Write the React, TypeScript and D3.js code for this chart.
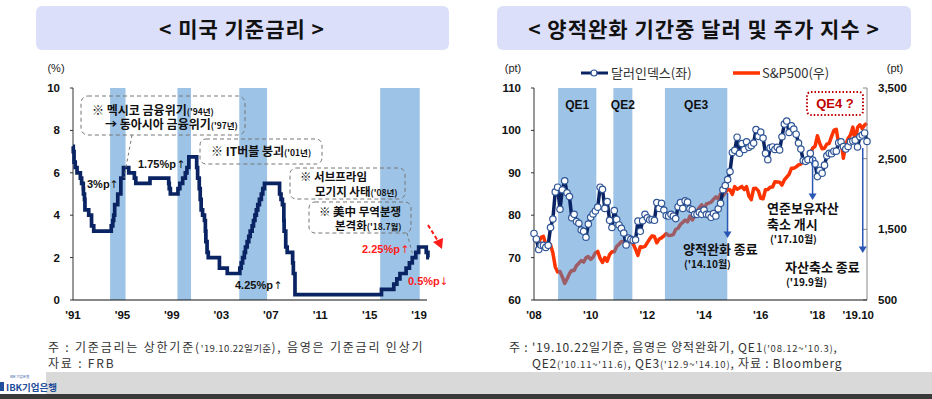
import React from 'react';
import * as d3 from 'd3';

// ---- left chart: US policy rate (upper bound), step changes ----
const rateDates = [
  '1991-01-01', '1991-01-09', '1991-02-01', '1991-03-08', '1991-04-30', '1991-08-06', '1991-09-13',
  '1991-10-31', '1991-11-06', '1991-12-06', '1991-12-20', '1992-04-09', '1992-07-02', '1992-09-04',
  '1994-02-04', '1994-03-22', '1994-04-18', '1994-05-17', '1994-08-16', '1994-11-15', '1995-02-01',
  '1995-07-06', '1995-12-19', '1996-01-31', '1997-03-25', '1998-09-29', '1998-10-15', '1998-11-17',
  '1999-06-30', '1999-08-24', '1999-11-16', '2000-02-02', '2000-03-21', '2000-05-16', '2001-01-03',
  '2001-01-31', '2001-03-20', '2001-04-18', '2001-05-15', '2001-06-27', '2001-08-21', '2001-09-17',
  '2001-10-02', '2001-11-06', '2001-12-11', '2002-11-06', '2003-06-25', '2004-06-30', '2004-08-10',
  '2004-09-21', '2004-11-10', '2004-12-14', '2005-02-02', '2005-03-22', '2005-05-03', '2005-06-30',
  '2005-08-09', '2005-09-20', '2005-11-01', '2005-12-13', '2006-01-31', '2006-03-28', '2006-05-10',
  '2006-06-29', '2007-09-18', '2007-10-31', '2007-12-11', '2008-01-22', '2008-01-30', '2008-03-18',
  '2008-04-30', '2008-10-08', '2008-10-29', '2008-12-16', '2015-12-16', '2016-12-14', '2017-03-15',
  '2017-06-14', '2017-12-13', '2018-03-21', '2018-06-13', '2018-09-26', '2018-12-19', '2019-07-31',
  '2019-09-18', '2019-10-22',
];
const rateValues = [
  7.25, 7.0, 6.5, 6.25, 6.0, 5.75, 5.5,
  5.25, 5.0, 4.75, 4.25, 4.0, 3.5, 3.25,
  3.5, 3.75, 4.0, 4.5, 5.0, 5.75, 6.25,
  6.0, 5.75, 5.5, 5.75, 5.5, 5.25, 5.0,
  5.25, 5.5, 5.75, 6.0, 6.25, 6.75, 6.25,
  5.75, 5.25, 4.75, 4.25, 4.0, 3.75, 3.25,
  2.75, 2.25, 2.0, 1.5, 1.25, 1.5, 1.75,
  2.0, 2.25, 2.5, 2.75, 3.0, 3.25, 3.5,
  3.75, 4.0, 4.25, 4.5, 4.75, 5.0, 5.25,
  5.5, 5.0, 4.75, 4.5, 3.75, 3.25, 2.5,
  2.25, 1.75, 1.25, 0.25, 0.5, 0.75, 1.0,
  1.25, 1.5, 1.75, 2.0, 2.25, 2.5, 2.25,
  2.0, 2.0,
];
const hikeStart = [1994.0, 1999.45, 2004.45, 2015.85];
const hikeEnd = [1995.25, 2000.55, 2006.7, 2019.05];
const rateTicks = [0, 2, 4, 6, 8, 10];
const rateYears = [1991, 1995, 1999, 2003, 2007, 2011, 2015, 2019];
const rateYearLabels = ["'91", "'95", "'99", "'03", "'07", "'11", "'15", "'19"];

// ---- right chart: dollar index (left axis) & S&P500 (right axis), monthly 2008.01 ~ 2019.10 ----
const dollarIndex = [
  75.7, 74.4, 71.9, 72.9, 72.9, 72.4, 72.9, 77.1, 79.1, 85.5, 86.6, 81.4,
  86.0, 88.1, 85.3, 84.4, 79.4, 80.2, 78.5, 78.1, 76.5, 76.2, 74.8, 77.9,
  79.5, 80.3, 81.0, 81.9, 86.6, 86.1, 81.6, 83.2, 78.8, 77.1, 81.1, 79.0,
  77.7, 76.9, 75.8, 73.0, 74.6, 74.3, 74.1, 74.2, 78.6, 76.2, 78.7, 80.2,
  79.4, 78.9, 79.0, 78.8, 83.0, 81.6, 82.8, 81.2, 79.9, 79.8, 80.2, 79.8,
  79.2, 82.0, 83.0, 81.6, 83.4, 83.1, 81.5, 81.3, 80.2, 80.2, 80.7, 80.2,
  81.2, 80.2, 80.1, 79.5, 80.4, 79.8, 81.5, 82.8, 86.0, 87.0, 88.4, 90.3,
  94.8, 95.3, 98.4, 94.6, 96.9, 95.5, 97.3, 96.0, 96.4, 97.0, 100.2, 98.6,
  99.6, 98.2, 94.6, 93.1, 95.9, 96.1, 95.5, 96.0, 95.4, 98.5, 101.5, 102.2,
  99.5, 101.1, 100.3, 99.1, 97.0, 95.6, 92.9, 92.7, 93.1, 94.6, 93.0, 92.1,
  89.1, 90.6, 89.9, 91.8, 94.0, 94.6, 94.5, 95.1, 95.1, 97.1, 97.3, 96.2,
  95.6, 96.2, 97.3, 97.5, 97.7, 96.1, 98.5, 98.9, 99.4, 97.4,
];
const sp500 = [
  1378, 1330, 1322, 1385, 1400, 1280, 1267, 1283, 1165, 969, 896, 903,
  826, 735, 798, 873, 919, 919, 987, 1021, 1057, 1036, 1096, 1115,
  1074, 1104, 1169, 1187, 1089, 1031, 1102, 1049, 1141, 1183, 1181, 1258,
  1286, 1327, 1326, 1364, 1345, 1321, 1292, 1219, 1131, 1253, 1247, 1258,
  1312, 1366, 1408, 1398, 1310, 1362, 1379, 1407, 1441, 1412, 1416, 1426,
  1498, 1515, 1569, 1598, 1631, 1606, 1686, 1633, 1682, 1757, 1806, 1848,
  1783, 1859, 1872, 1884, 1924, 1960, 1931, 2003, 1972, 2018, 2068, 2059,
  1995, 2105, 2068, 2086, 2107, 2063, 2104, 1972, 1920, 2079, 2080, 2044,
  1940, 1932, 2060, 2065, 2097, 2099, 2174, 2171, 2168, 2126, 2199, 2239,
  2279, 2364, 2363, 2384, 2412, 2423, 2470, 2472, 2519, 2575, 2648, 2674,
  2824, 2714, 2641, 2648, 2705, 2718, 2816, 2902, 2914, 2712, 2760, 2507,
  2704, 2784, 2834, 2946, 2752, 2942, 2980, 2926, 2977, 3000,
];
const qeNames = ['QE1', 'QE2', 'QE3'];
const qeStart = [2008.85, 2010.8, 2012.62];
const qeEnd = [2010.2, 2011.47, 2014.82];
const dollarTicks = [60, 70, 80, 90, 100, 110];
const spTicks = [500, 1500, 2500, 3500];
const spTickLabels = ['500', '1,500', '2,500', '3,500'];
const qeYears = [2008, 2010, 2012, 2014, 2016, 2018];
const qeYearLabels = ["'08", "'10", "'12", "'14", "'16", "'18"];
const qeEndDates = [2014.83, 2017.83, 2019.6];

const KR = "'Noto Sans CJK KR', 'Noto Sans', sans-serif";
const NUM = "'Liberation Sans', Arial, sans-serif";
const NAVY = '#0a2463';
const BAND = '#9dc3e6';
const RED = '#ff3300';
const ARROW = '#2a57b5';

const toYear = (s: string) => {
  const d = new Date(s + 'T00:00:00Z');
  const y = d.getUTCFullYear();
  return y + (d.getTime() - Date.UTC(y, 0, 1)) / (365.25 * 864e5);
};

// label text + separate arrow glyph
const Change = ({ x, y, label, arrowX, arrow, color }: any) => (
  <g fill={color}>
    <text x={x} y={y} fontFamily={NUM} fontWeight={700} fontSize={11}>{label}</text>
    <text x={arrowX} y={y} textAnchor="middle" fontFamily="'DejaVu Sans', sans-serif" fontSize={10.5}>{arrow}</text>
  </g>
);

const App = () => {
  // left chart scales
  const xL = d3.scaleLinear().domain([1991, 2019.8]).range([73, 429]);
  const yL = d3.scaleLinear().domain([0, 10]).range([300, 88]);
  const rateData = rateDates.map((d, i) => ({ t: toYear(d), v: rateValues[i] }));
  const rateLine = d3.line<{ t: number; v: number }>()
    .x(d => xL(d.t)).y(d => yL(d.v)).curve(d3.curveStepAfter);

  // right chart scales
  const xR = d3.scaleLinear().domain([2008, 2019.75]).range([534, 867]);
  const yD = d3.scaleLinear().domain([60, 110]).range([300, 88]);
  const yS = d3.scaleLinear().domain([500, 3500]).range([300, 88]);
  const month = (i: number) => 2008 + i / 12;
  const dollarLine = d3.line<number>().x((_, i) => xR(month(i))).y(d => yD(d));
  const spLine = d3.line<number>().x((_, i) => xR(month(i))).y(d => yS(d));

  const arrowHead = (x: number, y: number, s = 4) =>
    `M${x - s},${y - s * 1.6} L${x + s},${y - s * 1.6} L${x},${y} Z`;

  return (
    <svg width={932} height={399} style={{ display: 'block', background: '#fff' }}>
      <style>{`body{margin:0}`}</style>

      {/* ===== titles ===== */}
      <rect x={36} y={6} width={413} height={44} rx={6} fill="#dcdffa" />
      <text x={242} y={37} textAnchor="middle" fontFamily={KR} fontWeight={700} fontSize={21} letterSpacing={1} fill="#111">
        {'< 미국 기준금리 >'}
      </text>
      <rect x={497} y={6} width={414} height={44} rx={6} fill="#dcdffa" />
      <text x={704} y={37} textAnchor="middle" fontFamily={KR} fontWeight={700} fontSize={21} letterSpacing={1} fill="#111">
        {'< 양적완화 기간중 달러 및 주가 지수 >'}
      </text>

      {/* ===== left chart ===== */}
      <g>
        {hikeStart.map((s, i) => (
          <rect key={i} x={xL(s)} y={yL(10)} width={xL(hikeEnd[i]) - xL(s)} height={yL(0) - yL(10)} fill={BAND} />
        ))}
        <text x={56} y={72} textAnchor="middle" fontFamily={NUM} fontSize={11} fill="#222">(%)</text>
        <line x1={73} x2={73} y1={yL(10)} y2={yL(0)} stroke="#333" strokeWidth={1} />
        {rateTicks.map(t => (
          <g key={t}>
            <line x1={70} x2={73} y1={yL(t)} y2={yL(t)} stroke="#333" />
            <text x={60} y={yL(t) + 4} textAnchor="end" fontFamily={NUM} fontWeight={700} fontSize={11.5} fill="#111">{t}</text>
          </g>
        ))}
        <line x1={73} x2={427} y1={yL(0)} y2={yL(0)} stroke="#111" strokeWidth={1.2} />
        {rateYears.map((y, i) => (
          <text key={y} x={xL(y)} y={319} textAnchor="middle" fontFamily={NUM} fontWeight={700} fontSize={11.5} fill="#111">
            {rateYearLabels[i]}
          </text>
        ))}
        <path d={rateLine(rateData) || ''} fill="none" stroke={NAVY} strokeWidth={3.7} strokeLinejoin="miter" />

        {/* annotations */}
        <g fontFamily={KR} fontWeight={700} fill="#111">
          <rect x={81} y={96} width={164} height={39} rx={7} fill="none" stroke="#777" strokeDasharray="4,3" />
          <text x={92} y={115} fontSize={12}>※ 멕시코 금융위기<tspan fontSize={8.5}>('94년)</tspan></text>
          <text x={105} y={129} fontSize={12}>→ 동아시아 금융위기<tspan fontSize={8.5}>('97년)</tspan></text>
          <line x1={132} y1={135} x2={124} y2={178} stroke="#777" strokeDasharray="3,3" />

          <rect x={200} y={139} width={122} height={25} rx={6} fill="none" stroke="#777" strokeDasharray="4,3" />
          <text x={211} y={156} fontSize={12}>※ IT버블 붕괴<tspan fontSize={8.5}>('01년)</tspan></text>

          <rect x={290} y={168} width={115} height={31} rx={6} fill="none" stroke="#777" strokeDasharray="4,3" />
          <text x={300} y={181} fontSize={11.5}>※  서브프라임</text>
          <text x={315} y={195.5} fontSize={11.5}>모기지 사태<tspan fontSize={8.5}>('08년)</tspan></text>

          <rect x={309} y={202} width={102} height={31} rx={6} fill="none" stroke="#777" strokeDasharray="4,3" />
          <text x={319} y={215.5} fontSize={11.5}>※ 美中 무역분쟁</text>
          <text x={335} y={230} fontSize={11.5}>본격화<tspan fontSize={8.5}>('18.7월)</tspan></text>
          <line x1={407} y1={233} x2={413} y2={256} stroke="#777" strokeDasharray="3,3" />
        </g>
        <Change x={87} y={188} label="3%p" arrowX={114} arrow="↑" color="#111" />
        <Change x={138} y={168} label="1.75%p" arrowX={181} arrow="↑" color="#111" />
        <Change x={235} y={289} label="4.25%p" arrowX={278} arrow="↑" color="#111" />
        <Change x={362} y={253} label="2.25%p" arrowX={405} arrow="↑" color="#ff1a1a" />
        <Change x={408} y={285} label="0.5%p" arrowX={444} arrow="↓" color="#ff1a1a" />
        <line x1={428} y1={225} x2={438} y2={241} stroke="#ff1a1a" strokeWidth={2} strokeDasharray="4,2.5" />
        <path d="M433,242 L443,238 L442,249 Z" fill="#ff1a1a" />
      </g>

      {/* ===== right chart ===== */}
      <g>
        <path d={spLine(sp500) || ''} fill="none" stroke={RED} strokeWidth={3.5} strokeLinejoin="round" />
        {qeStart.map((s, i) => (
          <rect key={i} x={xR(s)} y={yD(110)} width={xR(qeEnd[i]) - xR(s)} height={yD(60) - yD(110)}
            fill="rgb(59,135,205)" fillOpacity={0.5} />
        ))}
        {qeStart.map((s, i) => (
          <text key={i} x={(xR(s) + xR(qeEnd[i])) / 2} y={109} textAnchor="middle" fontFamily={NUM} fontWeight={700} fontSize={12} fill="#111">
            {qeNames[i]}
          </text>
        ))}
        <text x={513} y={72} textAnchor="middle" fontFamily={NUM} fontSize={11} fill="#222">(pt)</text>
        <text x={895} y={72} textAnchor="middle" fontFamily={NUM} fontSize={11} fill="#222">(pt)</text>

        <line x1={534} x2={534} y1={yD(110)} y2={yD(60)} stroke="#333" />
        {dollarTicks.map(t => (
          <g key={t}>
            <line x1={531} x2={534} y1={yD(t)} y2={yD(t)} stroke="#333" />
            <text x={521} y={yD(t) + 4} textAnchor="end" fontFamily={NUM} fontWeight={700} fontSize={11.5} fill="#111">{t}</text>
          </g>
        ))}
        <line x1={867} x2={867} y1={yS(3500)} y2={yS(500)} stroke="#888" />
        {spTicks.map((t, i) => (
          <g key={t}>
            <line x1={863} x2={867} y1={yS(t)} y2={yS(t)} stroke="#888" />
            <text x={878} y={yS(t) + 4} fontFamily={NUM} fontWeight={700} fontSize={11.5} fill="#111">{spTickLabels[i]}</text>
          </g>
        ))}
        <line x1={534} x2={867} y1={300} y2={300} stroke="#111" strokeWidth={1.2} />
        {qeYears.map((y, i) => (
          <text key={y} x={xR(y)} y={319} textAnchor="middle" fontFamily={NUM} fontWeight={700} fontSize={11.5} fill="#111">
            {qeYearLabels[i]}
          </text>
        ))}
        <text x={874} y={319} textAnchor="end" fontFamily={NUM} fontWeight={700} fontSize={11.5} fill="#111">'19.10</text>

        <path d={dollarLine(dollarIndex) || ''} fill="none" stroke={NAVY} strokeWidth={3.5} strokeLinejoin="round" />
        {dollarIndex.map((v, i) => (
          <circle key={i} cx={xR(month(i))} cy={yD(v)} r={3.2} fill="#fff" stroke="#2f5597" strokeWidth={1.2} />
        ))}

        {/* legend */}
        <line x1={581} x2={608} y1={73} y2={73} stroke={NAVY} strokeWidth={3} />
        <circle cx={594} cy={73} r={3} fill="#fff" stroke="#2f5597" strokeWidth={1.2} />
        <text x={611} y={78} fontFamily={KR} fontSize={13} fill="#333">달러인덱스(좌)</text>
        <line x1={733} x2={760} y1={73} y2={73} stroke={RED} strokeWidth={3.5} />
        <text x={762} y={78} fontFamily={KR} fontSize={13} fill="#333">S&amp;P500(우)</text>

        {/* QE4 box */}
        <rect x={807} y={92} width={56} height={23} rx={4} fill="#fff" stroke="#c00000" strokeWidth={2} strokeDasharray="1.5,2" />
        <text x={835} y={108} textAnchor="middle" fontFamily={NUM} fontWeight={700} fontSize={13} fill="#c00000">QE4 ?</text>

        {/* arrows */}
        {[[193, 238], [158, 200], [148, 253]].map(([y1, y2], i) => (
          <g key={i}>
            <line x1={xR(qeEndDates[i])} x2={xR(qeEndDates[i])} y1={y1} y2={y2 - 5} stroke={ARROW} strokeWidth={1.5} />
            <path d={arrowHead(xR(qeEndDates[i]), y2)} fill={ARROW} />
          </g>
        ))}
        <g fontFamily={KR} fontWeight={700} fill="#111">
          <text x={683} y={254} fontSize={13}>양적완화 종료</text>
          <text x={684} y={268} fontSize={10}>('14.10월)</text>
          <text x={767} y={213} fontSize={13}>연준보유자산</text>
          <text x={767} y={229} fontSize={13}>축소 개시</text>
          <text x={770} y={243} fontSize={10}>('17.10월)</text>
          <text x={785} y={272} fontSize={13}>자산축소 종료</text>
          <text x={786} y={286} fontSize={10}>('19.9월)</text>
        </g>
      </g>

      {/* ===== notes ===== */}
      <g fontFamily={KR} fill="#333" fontSize={12}>
        <text x={48} y={352} letterSpacing={1.8}>주 : 기준금리는 상한기준(<tspan fontSize={9.5} letterSpacing={0.4}>'19.10.22일기준</tspan>), 음영은 기준금리 인상기</text>
        <text x={48} y={368} letterSpacing={1.8}>자료 : FRB</text>
        <text x={509} y={352} letterSpacing={0.8}>주 : '19.10.22일기준, 음영은 양적완화기, QE1<tspan fontSize={9.5}>('08.12~'10.3)</tspan>,</text>
        <text x={532} y={368} letterSpacing={0.8}>QE2<tspan fontSize={9.5}>('10.11~'11.6)</tspan>, QE3<tspan fontSize={9.5}>('12.9~'14.10)</tspan>,  자료 : Bloomberg</text>
      </g>

      {/* ===== footer ===== */}
      <rect x={46} y={372} width={886} height={22} fill="#d9d9d9" />
      <rect x={0} y={394} width={932} height={5} fill="#3a3a3a" />
      <rect x={0} y={382} width={4} height={9} fill="#1f4e9a" />
      <text x={10} y={378} fontFamily={KR} fontSize={3.5} fill="#1f4e9a">IBK 기업은행</text>
      <text x={6} y={391} fontFamily={KR} fontWeight={700} fontSize={9.5} fill="#1f4e9a">IBK기업은행</text>
    </svg>
  );
};

export default App;
